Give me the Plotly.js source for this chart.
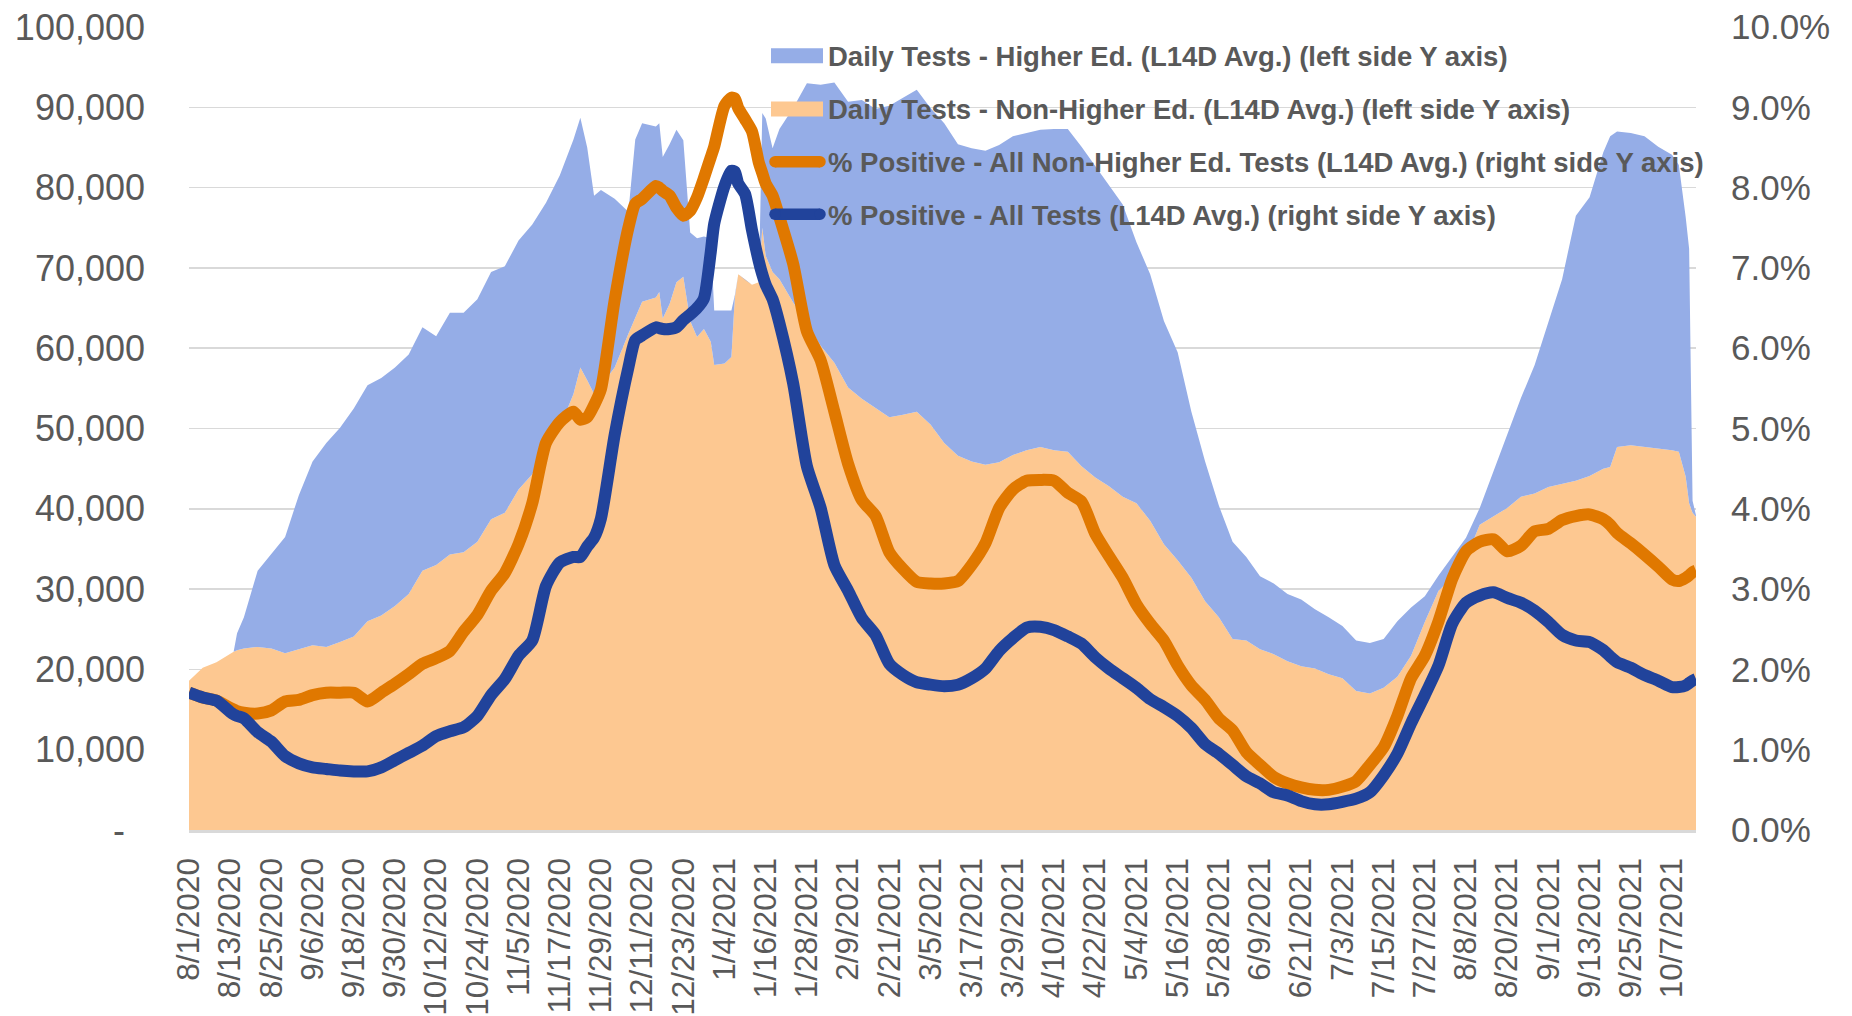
<!DOCTYPE html>
<html><head><meta charset="utf-8">
<script src="https://cdn.plot.ly/plotly-3.0.1.min.js"></script>
<style>html,body{margin:0;padding:0;background:#fff;} #chart{width:1852px;height:1016px;}</style>
</head><body><div id="chart"></div>
<script>
const dates = [
'2020-08-01','2020-08-05','2020-08-09','2020-08-13','2020-08-14','2020-08-15','2020-08-17','2020-08-21','2020-08-25','2020-08-29',
'2020-09-02','2020-09-06','2020-09-10','2020-09-14','2020-09-18','2020-09-22','2020-09-26','2020-09-30','2020-10-04','2020-10-08',
'2020-10-12','2020-10-16','2020-10-20','2020-10-24','2020-10-28','2020-11-01','2020-11-05','2020-11-09','2020-11-13','2020-11-17',
'2020-11-21','2020-11-23','2020-11-25','2020-11-27','2020-11-29','2020-12-03','2020-12-07','2020-12-09','2020-12-11','2020-12-15',
'2020-12-16','2020-12-17','2020-12-19','2020-12-21','2020-12-23','2020-12-25','2020-12-27','2020-12-29','2020-12-31','2021-01-01',
'2021-01-04','2021-01-06','2021-01-07','2021-01-08','2021-01-10','2021-01-12','2021-01-14','2021-01-15','2021-01-16','2021-01-18',
'2021-01-20','2021-01-24','2021-01-28','2021-02-01','2021-02-05','2021-02-09','2021-02-13','2021-02-17','2021-02-21','2021-02-25',
'2021-03-01','2021-03-05','2021-03-09','2021-03-13','2021-03-17','2021-03-21','2021-03-25','2021-03-29','2021-04-02','2021-04-06',
'2021-04-10','2021-04-14','2021-04-18','2021-04-22','2021-04-26','2021-04-30','2021-05-04','2021-05-08','2021-05-12','2021-05-16',
'2021-05-20','2021-05-24','2021-05-28','2021-06-01','2021-06-05','2021-06-09','2021-06-13','2021-06-17','2021-06-21','2021-06-25',
'2021-06-29','2021-07-03','2021-07-07','2021-07-11','2021-07-15','2021-07-19','2021-07-23','2021-07-27','2021-07-31','2021-08-04',
'2021-08-08','2021-08-12','2021-08-16','2021-08-20','2021-08-24','2021-08-28','2021-09-01','2021-09-05','2021-09-09','2021-09-13',
'2021-09-17','2021-09-19','2021-09-21','2021-09-25','2021-09-29','2021-10-03','2021-10-07','2021-10-09','2021-10-11','2021-10-12',
'2021-10-13','2021-10-14'];

const nonHigherEdTests = [
18600,20200,20900,22000,22200,22400,22600,22800,22600,22000,
22500,23000,22800,23400,24100,26000,26700,27900,29400,32300,
33000,34300,34600,35900,38700,39500,42400,44300,47500,50100,
54300,57600,56000,54300,55300,57600,61800,63700,65800,66300,
67000,63700,65500,68200,68900,63400,61400,62400,60800,57900,
58100,58900,66300,69200,68500,67900,68200,75000,71500,69500,
68600,65700,63100,60300,58200,55100,53700,52500,51400,51700,
52100,50500,48200,46600,45900,45500,45800,46700,47300,47700,
47300,47100,45300,43900,42800,41500,40700,38500,35600,33600,
31400,28500,26500,23800,23600,22500,21900,21000,20400,20100,
19400,18900,17300,17000,17700,19100,21700,25900,29800,31400,
33800,38000,39100,40100,41500,41900,42700,43100,43500,44100,
45000,45200,47700,47900,47700,47500,47300,47100,44000,40700,
39500,39000];

const higherEdTests = [
0,0,0,0,0,2100,3900,9500,11800,14500,
19200,22900,25400,26700,28400,29400,29600,29700,29800,30300,
28500,30100,29800,30200,30800,30700,31000,31100,30600,31400,
31700,31100,29000,24700,24400,21000,15200,22300,22200,21300,
21000,20100,19900,19000,17000,11000,12300,11500,12900,6800,
6600,5800,300,0,0,0,0,14300,17100,15400,
18700,24200,29900,32500,34900,35600,37200,37300,38800,39500,
40100,39400,39800,38800,39000,39100,39500,39700,39500,39500,
40000,40200,39800,38800,37500,36400,32500,30700,27800,25900,
20700,17400,13900,12100,10400,9100,8800,8400,8300,7400,
7100,6500,6300,6300,6100,6900,6000,3200,1900,2600,
2600,2100,5500,9200,12300,16000,20700,25500,33000,34700,
39400,41200,39300,38900,38700,37600,36800,35700,32300,31700,
1500,200];

const pctPositiveNonHigherEd = [
1.71,1.65,1.61,1.52,1.50,1.48,1.46,1.45,1.49,1.60,
1.62,1.68,1.71,1.71,1.71,1.60,1.71,1.82,1.94,2.07,
2.14,2.23,2.47,2.68,2.98,3.20,3.56,4.07,4.82,5.08,
5.21,5.11,5.14,5.29,5.49,6.60,7.50,7.80,7.86,8.02,
8.00,7.96,7.90,7.75,7.65,7.71,7.88,8.12,8.38,8.51,
9.02,9.12,9.11,8.99,8.85,8.70,8.31,8.18,8.05,7.90,
7.63,7.05,6.21,5.85,5.21,4.56,4.11,3.91,3.46,3.25,
3.09,3.07,3.07,3.10,3.30,3.57,4.01,4.24,4.35,4.36,
4.35,4.20,4.09,3.69,3.41,3.14,2.81,2.57,2.36,2.05,
1.80,1.62,1.39,1.24,0.97,0.81,0.66,0.58,0.53,0.50,
0.50,0.54,0.61,0.81,1.03,1.42,1.89,2.17,2.60,3.13,
3.47,3.59,3.62,3.47,3.54,3.72,3.75,3.86,3.91,3.93,
3.87,3.80,3.70,3.57,3.43,3.28,3.12,3.10,3.14,3.17,
3.21,3.23];

const pctPositiveAll = [
1.71,1.65,1.61,1.47,1.44,1.42,1.39,1.22,1.10,0.92,
0.83,0.78,0.76,0.74,0.73,0.73,0.78,0.87,0.96,1.05,
1.17,1.23,1.28,1.42,1.68,1.88,2.17,2.36,3.04,3.33,
3.40,3.40,3.53,3.64,3.88,4.92,5.76,6.10,6.16,6.26,
6.25,6.24,6.24,6.26,6.35,6.42,6.50,6.62,7.20,7.55,
8.02,8.21,8.20,8.05,7.92,7.47,7.08,6.92,6.79,6.61,
6.31,5.56,4.53,4.01,3.30,2.98,2.64,2.43,2.07,1.93,
1.84,1.81,1.79,1.81,1.89,2.01,2.23,2.39,2.52,2.53,
2.49,2.41,2.32,2.15,2.01,1.89,1.77,1.63,1.53,1.42,
1.27,1.07,0.95,0.81,0.67,0.58,0.47,0.43,0.36,0.32,
0.32,0.35,0.39,0.47,0.68,0.95,1.33,1.68,2.05,2.57,
2.83,2.92,2.96,2.89,2.83,2.73,2.59,2.43,2.36,2.34,
2.24,2.16,2.09,2.02,1.93,1.86,1.78,1.78,1.80,1.83,
1.86,1.88];

const xTickDates = ['2020-08-01','2020-08-13','2020-08-25','2020-09-06','2020-09-18','2020-09-30','2020-10-12','2020-10-24',
'2020-11-05','2020-11-17','2020-11-29','2020-12-11','2020-12-23','2021-01-04','2021-01-16','2021-01-28','2021-02-09',
'2021-02-21','2021-03-05','2021-03-17','2021-03-29','2021-04-10','2021-04-22','2021-05-04','2021-05-16','2021-05-28',
'2021-06-09','2021-06-21','2021-07-03','2021-07-15','2021-07-27','2021-08-08','2021-08-20','2021-09-01','2021-09-13',
'2021-09-25','2021-10-07'];
const xTickLabels = ['8/1/2020','8/13/2020','8/25/2020','9/6/2020','9/18/2020','9/30/2020','10/12/2020','10/24/2020',
'11/5/2020','11/17/2020','11/29/2020','12/11/2020','12/23/2020','1/4/2021','1/16/2021','1/28/2021','2/9/2021',
'2/21/2021','3/5/2021','3/17/2021','3/29/2021','4/10/2021','4/22/2021','5/4/2021','5/16/2021','5/28/2021',
'6/9/2021','6/21/2021','7/3/2021','7/15/2021','7/27/2021','8/8/2021','8/20/2021','9/1/2021','9/13/2021',
'9/25/2021','10/7/2021'];
const yLeftTicks = [0,10000,20000,30000,40000,50000,60000,70000,80000,90000,100000];
const yLeftLabels = ['-\u00a0\u00a0','10,000','20,000','30,000','40,000','50,000','60,000','70,000','80,000','90,000','100,000'];
const yRightTicks = [0,1,2,3,4,5,6,7,8,9,10];
const yRightLabels = ['0.0%','1.0%','2.0%','3.0%','4.0%','5.0%','6.0%','7.0%','8.0%','9.0%','10.0%'];

const seriesNames = [
 'Daily Tests - Higher Ed. (L14D Avg.) (left side Y axis)',
 'Daily Tests - Non-Higher Ed. (L14D Avg.) (left side Y axis)',
 '% Positive - All Non-Higher Ed. Tests (L14D Avg.) (right side Y axis)',
 '% Positive - All Tests (L14D Avg.) (right side Y axis)'
];

const FONT = 'Liberation Sans, Arial, sans-serif';
const GREY = '#595959';
const C_HIGHER = '#95ADE7', C_NONHIGHER = '#FDC891', C_ORANGE = '#E07800', C_BLUE = '#21439B';

const traces = [
 {x: dates, y: nonHigherEdTests, name: seriesNames[1], type: 'scatter', mode: 'lines', stackgroup: 'tests',
  line: {width: 0, color: C_NONHIGHER}, fillcolor: C_NONHIGHER, hoverinfo: 'skip'},
 {x: dates, y: higherEdTests, name: seriesNames[0], type: 'scatter', mode: 'lines', stackgroup: 'tests',
  line: {width: 0, color: C_HIGHER}, fillcolor: C_HIGHER, hoverinfo: 'skip'},
 {x: dates, y: pctPositiveNonHigherEd, name: seriesNames[2], type: 'scatter', mode: 'lines', yaxis: 'y2',
  line: {width: 12, color: C_ORANGE, shape: 'spline', smoothing: 0.6}, hoverinfo: 'skip'},
 {x: dates, y: pctPositiveAll, name: seriesNames[3], type: 'scatter', mode: 'lines', yaxis: 'y2',
  line: {width: 12, color: C_BLUE, shape: 'spline', smoothing: 0.6}, hoverinfo: 'skip'}
];

// custom legend (pixel geometry of the plot area)
const PL = 189, PR = 1696, PT = 27, PB = 830;
const px = p => (p - PL) / (PR - PL);
const py = p => (PB - p) / (PB - PT);
const legendRows = [55.8, 109.0, 161.7, 214.3];
const legendKinds = ['rect', 'rect', 'line', 'line'];
const legendColors = [C_HIGHER, C_NONHIGHER, C_ORANGE, C_BLUE];
const shapes = [], annotations = [];
legendRows.forEach((cy, i) => {
  if (legendKinds[i] === 'rect') {
    shapes.push({type: 'rect', xref: 'paper', yref: 'paper', layer: 'above',
      x0: px(771), x1: px(823), y0: py(cy + 7.5), y1: py(cy - 7.5), fillcolor: legendColors[i], line: {width: 0}});
  } else {
    shapes.push({type: 'line', xref: 'paper', yref: 'paper', layer: 'above',
      x0: px(775), x1: px(820), y0: py(cy), y1: py(cy), line: {width: 11.5, color: legendColors[i]}});
    [775, 820].forEach(cx => shapes.push({type: 'circle', xref: 'paper', yref: 'paper', layer: 'above',
      x0: px(cx - 5.75), x1: px(cx + 5.75), y0: py(cy + 5.75), y1: py(cy - 5.75), fillcolor: legendColors[i], line: {width: 0}}));
  }
  annotations.push({xref: 'paper', yref: 'paper', x: px(826), y: py(cy + 1), xanchor: 'left', yanchor: 'middle',
    text: seriesNames[i], showarrow: false, font: {family: FONT, size: 27.5, color: GREY, weight: 'bold'}});
});

const layout = {
 width: 1852, height: 1016,
 margin: {l: PL, r: 1852 - PR, t: PT, b: 1016 - PB},
 paper_bgcolor: '#ffffff', plot_bgcolor: '#ffffff',
 font: {family: FONT, color: GREY},
 showlegend: false,
 shapes: shapes, annotations: annotations,
 xaxis: {type: 'date', range: ['2020-08-01', '2021-10-14'], tickmode: 'array', tickvals: xTickDates, ticktext: xTickLabels,
   tickangle: -90, tickfont: {family: FONT, size: 31.5, color: GREY}, showgrid: false, zeroline: false,
   showline: true, linecolor: '#D9D9D9', linewidth: 2.5, ticks: '', ticklabelstandoff: 13},
 yaxis: {range: [0, 100000], tickmode: 'array', tickvals: yLeftTicks, ticktext: yLeftLabels,
   tickfont: {family: FONT, size: 36, color: GREY}, showgrid: true, gridcolor: '#D9D9D9', gridwidth: 1.5,
   zeroline: false, showline: false, ticks: '', ticklabelstandoff: 43},
 yaxis2: {range: [0, 10], overlaying: 'y', side: 'right', tickmode: 'array', tickvals: yRightTicks, ticktext: yRightLabels,
   tickfont: {family: FONT, size: 35, color: GREY}, showgrid: false, zeroline: false, showline: false, ticks: '', ticklabelstandoff: 34}
};

Plotly.newPlot('chart', traces, layout, {staticPlot: true, displayModeBar: false});
</script>
</body></html>
